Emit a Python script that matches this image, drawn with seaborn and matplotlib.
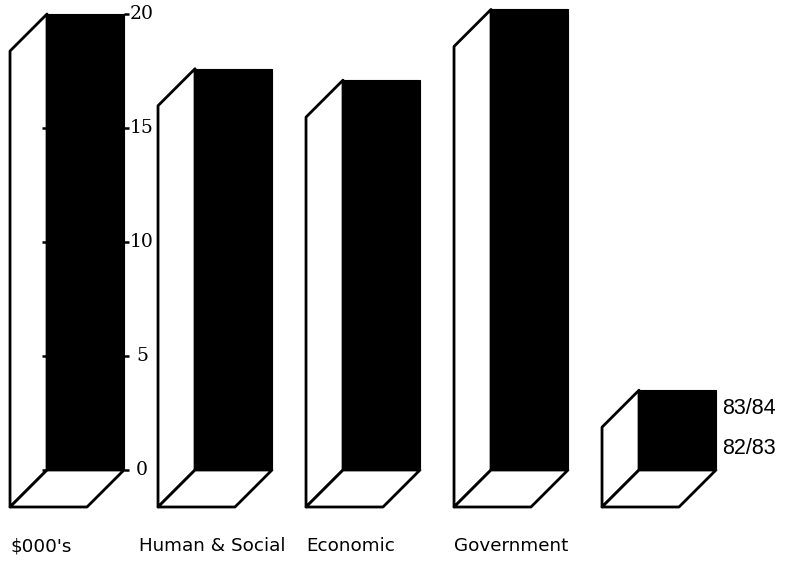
import matplotlib
matplotlib.use("Agg")
import matplotlib.pyplot as plt
from matplotlib.patches import Polygon
import seaborn as sns
import pandas as pd

# Spending by programme area, in $000's
categories = ["Human & Social", "Economic", "Government"]
spend_8384 = [17.6, 17.1, 20.2]

scale_label = "$000's"
scale_ticks = [0, 5, 10, 15, 20]
legend_labels = ["83/84", "82/83"]
legend_height = 3.5

# every box on the floor: scale frame, the three programmes, the legend key
box_names = [scale_label] + categories + [" "]
box_heights = [scale_ticks[-1]] + spend_8384 + [legend_height]
df = pd.DataFrame({"area": box_names, "amount": box_heights})

sns.set_theme(style="white")
plt.rcParams["font.family"] = ["DejaVu Sans"]

W, H, DPI = 785, 566, 100
fig = plt.figure(figsize=(W / DPI, H / DPI), dpi=DPI)
ax = fig.add_axes([0, 0, 1, 1])

bar_w = 0.52
sns.barplot(data=df, x="area", y="amount", order=box_names, color="black",
            width=bar_w, saturation=1, errorbar=None, edgecolor="black",
            linewidth=0.8, ax=ax)

# pixel-aligned data limits
px_per_x, px_per_y = 148.0, 22.8
x0_px, y0_px = 85.5, 96.0
ax.set_xlim(-x0_px / px_per_x, (W - x0_px) / px_per_x)
ax.set_ylim(-y0_px / px_per_y, (H - y0_px) / px_per_y)
ax.axis("off")

# oblique depth of the boxes
dx = 37 / px_per_x
dy = 37 / px_per_y
lw = 2.0

for i, h in enumerate(box_heights):
    xl, xr = i - bar_w / 2, i + bar_w / 2
    side = Polygon([(xl, 0), (xl, h), (xl - dx, h - dy), (xl - dx, -dy)],
                   closed=True, facecolor="white", edgecolor="black",
                   linewidth=lw, joinstyle="round", zorder=3)
    floor = Polygon([(xl, 0), (xr, 0), (xr - dx, -dy), (xl - dx, -dy)],
                    closed=True, facecolor="white", edgecolor="black",
                    linewidth=lw, joinstyle="round", zorder=3)
    ax.add_patch(side)
    ax.add_patch(floor)

# value scale drawn on the first box
xl0, xr0 = -bar_w / 2, bar_w / 2
tick_len = 5 / px_per_x
for t in scale_ticks:
    ax.plot([xr0, xr0 + tick_len], [t, t], color="black", lw=1.8,
            solid_capstyle="butt", zorder=4)
    if t < scale_ticks[-1]:
        ax.plot([xl0 - tick_len, xl0], [t, t], color="black", lw=1.8,
                solid_capstyle="butt", zorder=4)
    ax.text(xr0 + 18 / px_per_x, t, str(t), ha="center", va="center",
            fontsize=13.5, family="DejaVu Serif", color="black")

# category labels under the floors
label_y = (H - 546 - y0_px) / px_per_y
label_shift = [0.0, -0.13, 0.0, 0.0]
for i, name in enumerate([scale_label] + categories):
    ax.text(i - bar_w / 2 - dx + label_shift[i], label_y, name,
            ha="left", va="center", fontsize=13.2, color="black")

# legend key text beside the last box
kx = len(box_names) - 1 + bar_w / 2 + 6 / px_per_x
ax.text(kx, legend_height - 0.8, legend_labels[0], ha="left", va="center",
        fontsize=15.5, family="Liberation Sans", color="black")
ax.text(kx, 0.95, legend_labels[1], ha="left", va="center",
        fontsize=15.5, family="Liberation Sans", color="black")

fig.savefig("out.png", dpi=DPI, facecolor="white")
